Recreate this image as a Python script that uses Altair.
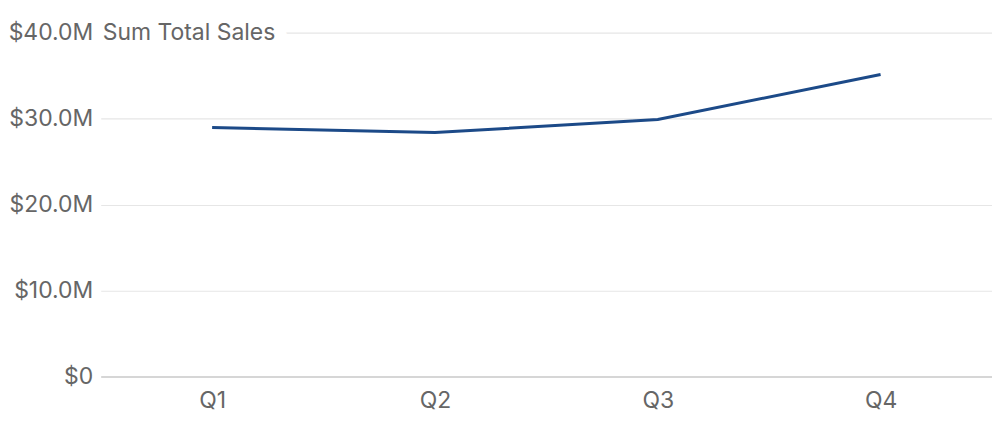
import altair as alt
import pandas as pd

quarters = ["Q1", "Q2", "Q3", "Q4"]
sales = [28.95e6, 28.37e6, 29.88e6, 35.13e6]
y_ticks = [0, 10e6, 20e6, 30e6, 40e6]
title_text = "Sum Total Sales"

FONT = "Inter"
FS = 23
LABEL = "#666666"

df = pd.DataFrame({"quarter": quarters, "sales": sales})
title_df = pd.DataFrame({"label": [title_text], "y": [40e6]})

x_enc = alt.X("quarter:N", sort=quarters, title=None,
              scale=alt.Scale(padding=0.5),
              axis=alt.Axis(labelAngle=0, labelFont=FONT, labelFontSize=FS,
                            labelColor=LABEL, labelPadding=13, ticks=False,
                            domainColor="#cccccc", domainWidth=1.5, grid=False))
y_scale = alt.Scale(domain=[0, 40e6], nice=False)

line = alt.Chart(df).mark_line(color="#1c4a88", strokeWidth=3).encode(
    x=x_enc,
    y=alt.Y("sales:Q", scale=y_scale, title=None,
            axis=alt.Axis(values=y_ticks, labelFont=FONT, labelFontSize=FS,
                          labelColor=LABEL, labelPadding=8, ticks=False,
                          domain=False, gridColor="#e6e6e6", gridWidth=1.2,
                          labelExpr="datum.value == 0 ? '$0' : '$' + format(datum.value / 1e6, '.1f') + 'M'")),
)

halo = alt.Chart(title_df).mark_text(
    align="left", baseline="middle", dx=2, font=FONT, fontSize=FS,
    color="white", stroke="white", strokeWidth=22
).encode(x=alt.value(0), y=alt.Y("y:Q", scale=y_scale), text="label:N")

title = alt.Chart(title_df).mark_text(
    align="left", baseline="middle", dx=2, font=FONT, fontSize=FS, color=LABEL
).encode(x=alt.value(0), y=alt.Y("y:Q", scale=y_scale), text="label:N")

chart = alt.layer(halo, line, title).properties(
    width=894, height=345,
    autosize=alt.AutoSizeParams(type="none"),
    padding={"left": 93, "top": 24, "right": 0, "bottom": 40},
).configure_view(stroke=None)

chart.save("out.html", embed_options={"renderer": "svg", "actions": False})
